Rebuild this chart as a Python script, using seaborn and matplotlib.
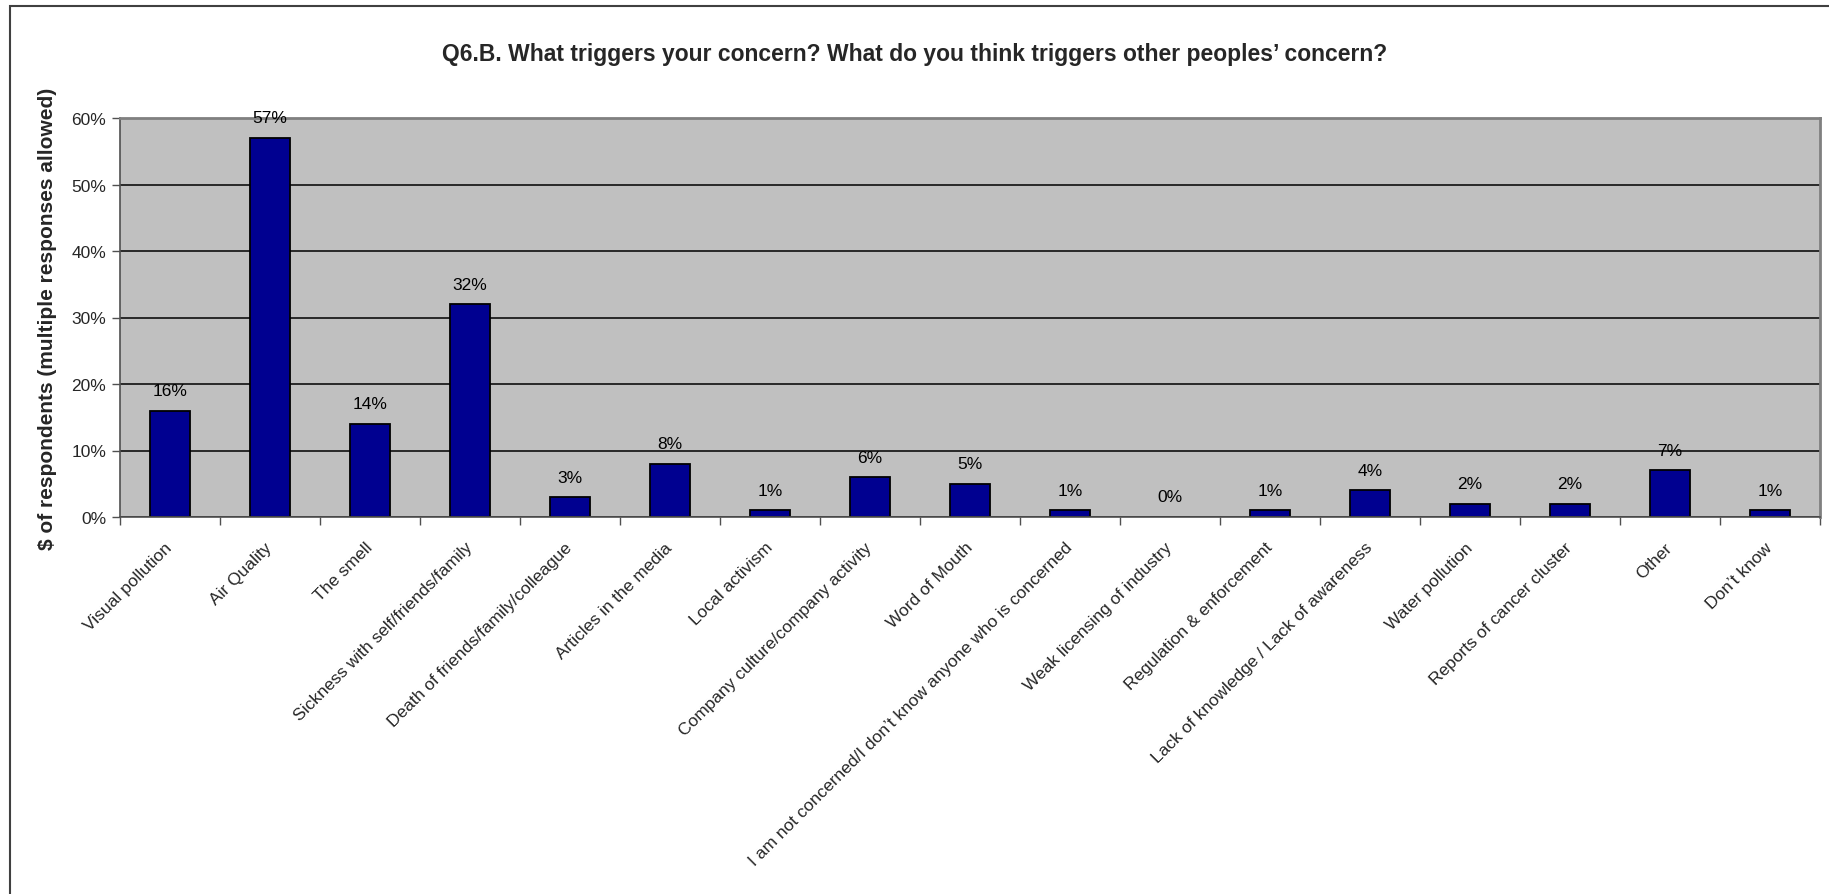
import numpy as np
import pandas as pd
import seaborn as sns
import matplotlib
matplotlib.use('Agg')
from matplotlib import pyplot as plt
from matplotlib.ticker import PercentFormatter
from matplotlib.patches import Rectangle

# dados
categorias = ['Visual pollution', 'Air Quality', 'The smell',
              'Sickness with self/friends/family',
              'Death of friends/family/colleague', 'Articles in the media',
              'Local activism', 'Company culture/company activity',
              'Word of Mouth',
              'I am not concerned/I don\u2019t know anyone who is concerned',
              'Weak licensing of industry', 'Regulation & enforcement',
              'Lack of knowledge / Lack of awareness', 'Water pollution',
              'Reports of cancer cluster', 'Other', 'Don\u2019t know']
percentuais = [16, 57, 14, 32, 3, 8, 1, 6, 5, 1, 0, 1, 4, 2, 2, 7, 1]
titulo = 'Q6.B. What triggers your concern? What do you think triggers other peoples\u2019 concern?'
rotulo_y = '$ of respondents (multiple responses allowed)'

df = pd.DataFrame({'Categoria': categorias,
                   'Valor': np.array(percentuais) / 100.0})

sns.set_theme(style='white')
plt.rcParams['font.family'] = ['Liberation Sans', 'DejaVu Sans']

fig = plt.figure(figsize=(18.29, 8.95), dpi=100)
ax = fig.add_axes([120 / 1829, 1 - 518 / 895, 1700 / 1829, 399 / 895])
ax.set_facecolor('#C0C0C0')

sns.barplot(data=df, x='Categoria', y='Valor', order=categorias,
            color='#000090', edgecolor='black', linewidth=1.3,
            width=0.4, saturation=1, ax=ax)

ax.bar_label(ax.containers[0], labels=[f'{v}%' for v in percentuais],
             padding=9, fontsize=12.5, color='black')

ax.set_ylim(0, 0.6)
ax.set_xlim(-0.5, len(categorias) - 0.5)
ax.set_yticks(np.arange(0, 0.61, 0.1))
ax.yaxis.set_major_formatter(PercentFormatter(1.0, decimals=0))
ax.yaxis.grid(True, color='black', linewidth=1.1)
ax.set_axisbelow(True)

ax.set_xticks(np.arange(-0.5, len(categorias), 1), minor=True)
ax.tick_params(axis='x', which='major', length=0, pad=20, labelsize=12.5)
ax.tick_params(axis='x', which='minor', length=6, width=1, color='#505050',
               direction='out', bottom=True)
ax.tick_params(axis='y', length=6, width=1, color='#505050', left=True,
               labelsize=12.5, pad=4)
plt.setp(ax.get_xticklabels(), rotation=45, ha='right',
         rotation_mode='anchor', va='center')

ax.set_xlabel('')
ax.set_ylabel(rotulo_y, fontsize=15, fontweight='bold', labelpad=10)

for lado in ['top', 'right']:
    ax.spines[lado].set_color('#808080')
    ax.spines[lado].set_linewidth(2)
for lado in ['left', 'bottom']:
    ax.spines[lado].set_color('#505050')
    ax.spines[lado].set_linewidth(1.2)

fig.text(0.5, 1 - 55 / 895, titulo, ha='center', va='center',
         fontsize=16.5, fontweight='bold')

# moldura externa
moldura = Rectangle((10 / 1829, -0.5), 1.5, 1.5 - 7 / 895,
                    transform=fig.transFigure, fill=False,
                    edgecolor='#404040', linewidth=1.5)
fig.patches.append(moldura)

fig.savefig('out.png', dpi=100)
